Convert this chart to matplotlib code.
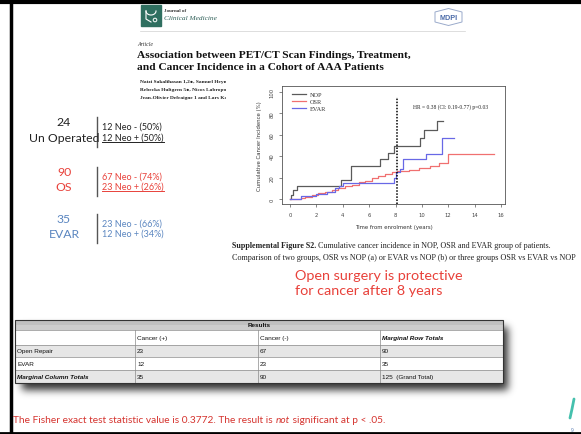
import numpy as np
import matplotlib
matplotlib.use("Agg")
import matplotlib.pyplot as plt
from matplotlib.patches import Rectangle, Polygon

# cumulative cancer incidence (%) vs time from enrolment (years), step points
nop_t = [0, 0.1, 0.25, 0.55, 3.85, 4.6, 6.85, 7.4, 7.85, 9.85, 10.15, 11.15, 11.6]
nop_y = [0, 4, 8, 12.5, 17.5, 31, 37, 43, 49.5, 56.5, 64, 72.5, 72.5]
osr_t = [0, 0.8, 1.15, 1.65, 2.15, 2.65, 3.15, 3.65, 4.15, 4.7, 5.2, 5.7, 6.2,
         6.7, 7.2, 7.7, 8.1, 9.0, 9.8, 10.6, 11.3, 12.0, 15.5]
osr_y = [0, 1, 2.2, 3.7, 5.3, 6.8, 8.7, 10.2, 11.8, 13.4, 15.5, 17, 19.3,
         21.1, 23.3, 24.8, 25.8, 27, 28.5, 31, 34, 41.5, 41.5]
evar_t = [0, 0.8, 2.0, 2.8, 3.4, 3.7, 4.0, 7.7, 7.85, 8.0, 8.3, 8.6, 10.3, 11.55, 12.4]
evar_y = [0, 3, 5, 6.5, 10, 12, 15, 15, 20, 25, 28, 37, 42, 56.5, 56.5]
cut_year = 8.1
hr, hr_lo, hr_hi, p_val = 0.38, 0.19, 0.77, 0.03

# neoplasia split per group
groups = ["Un Operated", "OS", "EVAR"]
group_n = [24, 90, 35]
neo_neg = [12, 67, 23]
neo_pos = [12, 23, 12]
group_col = ["#222222", "#e8413a", "#5b86c0"]

# contingency table
row_names = ["Open Repair", "EVAR", "Marginal Column Totals"]
col_names = ["", "Cancer (+)", "Cancer (-)", "Marginal Row Totals"]
cancer_pos = [23, 12, 35]
cancer_neg = [67, 23, 90]
row_tot = [90, 35, 125]
fisher_stat = 0.3772

W, H = 581, 435
fig = plt.figure(figsize=(W / 100, H / 100), dpi=100)
bg = fig.add_axes([0, 0, 1, 1])
bg.set_xlim(0, W)
bg.set_ylim(H, 0)
bg.axis("off")
rend = fig.canvas.get_renderer()

SERIF = "Liberation Serif"
SANS = "Liberation Sans"
SLIDE = "Lato"


def px_x(disp_x):
    return bg.transData.inverted().transform((disp_x, 0))[0]


def chain(x, y, parts, **kw):
    # write text pieces one after another on the same baseline
    for s, extra in parts:
        t = bg.text(x, y, s, **kw, **extra)
        bb = t.get_window_extent(renderer=rend)
        x = px_x(bb.x1)
    return x


def underline(t, dy, color, lw=0.8):
    bb = t.get_window_extent(renderer=rend)
    x0, x1 = px_x(bb.x0), px_x(bb.x1)
    bg.plot([x0, x1], [t.get_position()[1] + dy] * 2, color=color, lw=lw)


# slide frame
bg.plot([11, 11], [0, H], color="black", lw=2.5)
bg.plot([0, W], [3, 3], color="black", lw=3)
bg.plot([0, W], [434, 434], color="black", lw=2)

# journal header
bg.add_patch(Rectangle((141, 6), 20, 21, color="#2f6f60"))
th = np.linspace(np.pi, 2 * np.pi, 30)
bg.plot(151 + 5 * np.cos(th), 12 - 4 * np.sin(th), color="white", lw=0.8)
bg.plot([146, 146, 151], [12, 20, 23], color="white", lw=0.8)
bg.add_patch(plt.Circle((155, 21), 1.8, fill=False, ec="white", lw=0.7))
bg.text(164, 11, "Journal of", fontsize=3.6, family=SERIF, weight="bold",
        color="#333333", va="center")
bg.text(164, 19, "Clinical Medicine", fontsize=5.3, family=SERIF,
        style="italic", color="#2f5f58", va="center")
bg.plot([140, 465], [31.5, 31.5], color="#d0d0d0", lw=0.5)
bg.add_patch(Polygon([(435, 13), (448.5, 9.5), (462, 13), (462, 23),
                      (448.5, 26.5), (435, 23)], closed=True, fill=False,
                     ec="#9aaacb", lw=0.7))
bg.text(448.5, 18, "MDPI", fontsize=5.2, family=SANS, weight="bold",
        color="#4a6aa8", ha="center", va="center")

bg.text(137, 44, "Article", fontsize=4.2, family=SERIF, style="italic",
        color="#333333", va="center")
bg.text(137, 55, "Association between PET/CT Scan Findings, Treatment,",
        fontsize=8.2, family=SERIF, weight="bold", color="#111111", va="center")
bg.text(137, 68, "and Cancer Incidence in a Cohort of AAA Patients",
        fontsize=8.2, family=SERIF, weight="bold", color="#111111", va="center")
authors = ["Natzi Sakalihasan 1,2\u25cf, Samuel Heyman",
           "Rebecka Hultgren 5\u25cf, Nicos Labropoulos",
           "Jean-Olivier Defraigne 1 and Lars Karlsson"]
for i, a in enumerate(authors):
    t = bg.text(140, 82 + 8 * i, a, fontsize=3.9, family=SERIF, weight="bold",
                color="#222222", va="center")
    t.set_clip_box(fig.transFigure.transform_bbox(
        matplotlib.transforms.Bbox([[0, 0], [226 / W, 1]])))
    t.set_clip_on(True)

# group summaries on the left
blocks = [(123, 139), (173, 188), (220, 235)]
for i in range(3):
    y1, y2 = blocks[i]
    c = group_col[i]
    bg.text(64, y1, str(group_n[i]), fontsize=8.8, family=SLIDE, color=c,
            ha="center", va="center")
    bg.text(64, y2, groups[i], fontsize=8.8, family=SLIDE, color=c,
            ha="center", va="center")
    bg.plot([97, 97], [y1 - 5, y2 + 9], color="#555555", lw=1.0)
    n = group_n[i]
    t1 = bg.text(102, y1 + 4, "%d Neo - (%d%%)" % (neo_neg[i], round(100 * neo_neg[i] / n)),
                 fontsize=6.5, family=SLIDE, color=c, va="center")
    t2 = bg.text(102, y2 - 1, "%d Neo + (%d%%)" % (neo_pos[i], round(100 * neo_pos[i] / n)),
                 fontsize=6.5, family=SLIDE, color=c, va="center")
    if i < 2:
        underline(t2, 4.5, c, lw=0.7)

# Kaplan-Meier style cumulative incidence
ax = fig.add_axes([282 / W, 1 - 205 / H, 223 / W, 118 / H])
ax.step(nop_t, nop_y, where="post", color="#5a5a5a", lw=0.9, label="NOP")
ax.step(osr_t, osr_y, where="post", color="#f07070", lw=0.9, label="OSR")
ax.step(evar_t, evar_y, where="post", color="#6868e6", lw=0.9, label="EVAR")
ax.plot([cut_year, cut_year], [-4.6, 95], color="black", ls=(0, (1, 1)),
        lw=1.1, clip_on=False)
ax.set_xlim(-0.61, 16.3)
ax.set_ylim(-4.66, 105.3)
ax.set_xticks(range(0, 17, 2))
ax.set_yticks(range(0, 101, 20))
ax.tick_params(direction="out", length=2.5, width=0.5, color="#555555",
               labelsize=3.8, labelcolor="#444444", pad=3)
for lab in ax.get_yticklabels():
    lab.set_rotation(90)
    lab.set_va("center")
for s in ax.spines.values():
    s.set_color("#555555")
    s.set_linewidth(0.6)
ax.set_xlabel("Time from enrolment (years)", fontsize=3.9, color="#333333",
              labelpad=5)
ax.set_ylabel("Cumulative Cancer Incidence (%)", fontsize=3.9, color="#333333",
              labelpad=5)
leg = ax.legend(loc="upper left", bbox_to_anchor=(0.03, 0.985), frameon=False,
                prop={"family": SERIF, "size": 4.5}, handlelength=2.2,
                labelspacing=0.3, handletextpad=0.6, borderaxespad=0.2)
for txt in leg.get_texts():
    txt.set_color("#333333")
ax.text(9.3, 87, "HR = %.2f (CI: %.2f-%.2f) p=%.2f" % (hr, hr_lo, hr_hi, p_val),
        fontsize=4.0, family=SERIF, color="#222222", va="center")

# figure caption
chain(232, 246, [("Supplemental Figure S2.", {"weight": "bold"}),
                 (" Cumulative cancer incidence in NOP, OSR and EVAR group of patients.", {})],
      fontsize=5.8, family=SERIF, color="#222222", va="center")
bg.text(232, 258, "Comparison of two groups, OSR vs NOP (a) or EVAR vs NOP (b) or three groups OSR vs EVAR vs NOP",
        fontsize=5.85, family=SERIF, color="#222222", va="center")

bg.text(295, 276, "Open surgery is protective", fontsize=10.4, family=SLIDE,
        color="#e8413a", va="center")
bg.text(295, 291, "for cancer after 8 years", fontsize=10.4, family=SLIDE,
        color="#e8413a", va="center")

# results table with soft drop shadow
yy, xx = np.mgrid[0:H, 0:W]
sh = ((xx >= 22) & (xx <= 507) & (yy >= 328) & (yy <= 390)).astype(float)
k = np.exp(-0.5 * (np.arange(-12, 13) / 4.0) ** 2)
k /= k.sum()
sh = np.apply_along_axis(lambda r: np.convolve(r, k, mode="same"), 1, sh)
sh = np.apply_along_axis(lambda c: np.convolve(c, k, mode="same"), 0, sh)
rgba = np.zeros((H, W, 4))
rgba[..., 3] = 0.8 * sh
bg.imshow(rgba, extent=(0, W, H, 0), zorder=1, interpolation="bilinear")
bg.set_xlim(0, W)
bg.set_ylim(H, 0)
bg.set_aspect("auto")

col_x = [15, 135, 258, 380, 503]
row_y = [321, 331, 346, 358, 371, 384]
row_fill = ["#cdcdcd", "white", "#e6e6e6", "white", "#e6e6e6"]
for r in range(5):
    bg.add_patch(Rectangle((col_x[0], row_y[r]), col_x[-1] - col_x[0],
                           row_y[r + 1] - row_y[r], fc=row_fill[r], ec="none", zorder=2))
bg.add_patch(Rectangle((col_x[0], row_y[0]), col_x[-1] - col_x[0], 5,
                       fc="#c0c0c0", ec="none", zorder=2))
for y in row_y[1:-1]:
    bg.plot([col_x[0], col_x[-1]], [y, y], color="#8a8a8a", lw=0.5, zorder=3)
for x in col_x[1:-1]:
    bg.plot([x, x], [row_y[1], row_y[-1]], color="#8a8a8a", lw=0.5, zorder=3)
bg.add_patch(Rectangle((col_x[0], row_y[0]), col_x[-1] - col_x[0],
                       row_y[-1] - row_y[0], fill=False, ec="#333333", lw=0.8, zorder=4))
tkw = dict(fontsize=4.6, family=SANS, color="#111111", va="center", zorder=5)
bg.text((col_x[0] + col_x[-1]) / 2, (row_y[0] + row_y[1]) / 2, "Results",
        ha="center", weight="bold", **tkw)
for c in range(1, 4):
    extra = {"weight": "bold", "style": "italic"} if c == 3 else {}
    bg.text(col_x[c] + 2, (row_y[1] + row_y[2]) / 2, col_names[c], **extra, **tkw)
for r in range(3):
    yc = (row_y[r + 2] + row_y[r + 3]) / 2
    extra = {"weight": "bold", "style": "italic"} if r == 2 else {}
    bg.text(col_x[0] + 2, yc, row_names[r], **extra, **tkw)
    bg.text(col_x[1] + 2, yc, str(cancer_pos[r]), **tkw)
    bg.text(col_x[2] + 2, yc, str(cancer_neg[r]), **tkw)
    tot = str(row_tot[r]) + ("  (Grand Total)" if r == 2 else "")
    bg.text(col_x[3] + 2, yc, tot, **tkw)

chain(13, 421, [("The Fisher exact test statistic value is %.4f. The result is " % fisher_stat, {}),
                ("not", {"style": "italic"}),
                (" significant at p < .05.", {})],
      fontsize=7.3, family=SLIDE, color="#d5332e", va="center")

# corner decoration and page number
bg.plot([574, 572, 570], [400, 410, 419], color="#45c0ad", lw=2, solid_capstyle="round")
bg.text(572, 431, "9", fontsize=3.5, family=SANS, color="#5a7fb5", ha="center", va="center")

fig.savefig("out.png", dpi=100)
